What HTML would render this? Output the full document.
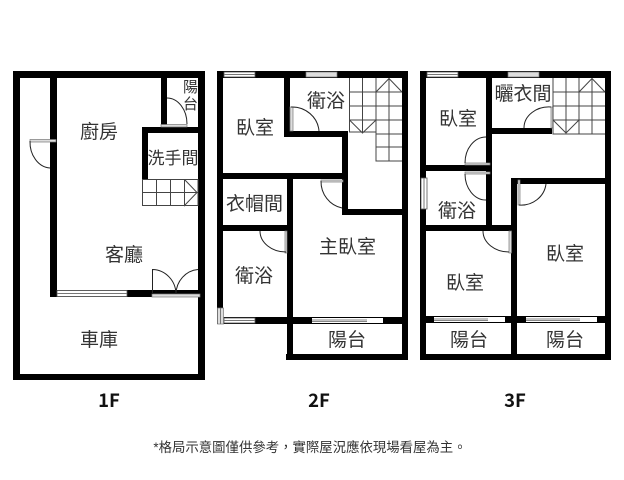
<!DOCTYPE html>
<html><head><meta charset="utf-8"><style>
html,body{margin:0;padding:0;background:#fff;width:624px;height:480px;overflow:hidden}
svg{display:block}
text{font-family:"Liberation Sans","Noto Sans CJK TC",sans-serif;fill:#333;text-anchor:middle}
.l{font-size:19px}
.s{font-size:17px}
.f{font-size:18.500px;font-weight:bold;fill:#111;font-family:"Noto Sans CJK TC","Liberation Sans",sans-serif}
.w{fill:#000;stroke:none}
.d{fill:none;stroke:#222;stroke-width:1}
.g{fill:#ddd;stroke:#777;stroke-width:.7}
.h{fill:#fff;stroke:#555;stroke-width:.8}
.t{fill:none;stroke:#444;stroke-width:1}
</style></head><body>
<svg width="624" height="480" viewBox="0 0 624 480" xmlns="http://www.w3.org/2000/svg">
<rect width="624" height="480" fill="#fff"/>
<!-- 1F -->
<g class="w">
<rect x="13" y="71" width="192" height="7"/><rect x="13" y="71" width="7" height="309"/><rect x="198" y="71" width="7" height="309"/><rect x="13" y="374" width="192" height="6"/>
<rect x="50" y="71" width="7" height="226"/><rect x="50" y="290" width="150" height="7"/>
<rect x="161" y="71" width="6" height="56"/><rect x="142" y="127" width="56" height="6"/><rect x="142" y="127" width="6" height="52"/>
</g>
<rect x="57" y="290.500" width="70" height="6" class="h"/><line x1="57" y1="293.500" x2="127" y2="293.500" stroke="#777"/>
<rect x="152" y="294" width="48" height="3" class="g"/>
<rect x="161" y="124.500" width="26" height="2.500" class="g"/>
<rect x="30" y="139.500" width="26" height="2.500" class="g"/>
<path class="d" d="M30 141A21 26 0 0 0 50 168"/>
<path class="d" d="M167 98A20 26 0 0 1 187 124"/>
<path class="d" d="M152.500 294V269.500A24 25 0 0 1 176 294M176 294A24 25 0 0 1 198 269.500"/>
<path class="t" d="M142.500 179.500H198V205.500H142.500ZM142.500 192.500H198M156.500 179.500V205.500M170.500 179.500V205.500M184.500 179.500V205.500L197 192.500L184.500 179.500"/>
<!-- 2F -->
<g class="w">
<rect x="217" y="71" width="191" height="7"/><rect x="217" y="71" width="6" height="253"/><rect x="402" y="71" width="6" height="289"/>
<rect x="217" y="317" width="191" height="7"/><rect x="286" y="354" width="122" height="6"/><rect x="287" y="173" width="6" height="187"/>
<rect x="217" y="173" width="131" height="6"/><rect x="342" y="131" width="6" height="84"/><rect x="342" y="209" width="66" height="6"/>
<rect x="284" y="71" width="6" height="66"/><rect x="284" y="131" width="64" height="6"/><rect x="217" y="225" width="76" height="6"/>
</g>
<rect x="224" y="72" width="31" height="5" class="h"/><line x1="224" y1="74.500" x2="255" y2="74.500" stroke="#777"/>
<rect x="306" y="72" width="31" height="5" class="g"/>
<rect x="224" y="318" width="31" height="5" class="h"/><line x1="224" y1="320.500" x2="255" y2="320.500" stroke="#777"/>
<rect x="217.500" y="308" width="6" height="16" class="g"/><line x1="220.500" y1="308" x2="220.500" y2="324" stroke="#777"/>
<rect x="312" y="318" width="71" height="5" fill="#fff"/><path d="M312 320H367M312 321.500H367" stroke="#888" stroke-width="1"/>
<rect x="290" y="107" width="3" height="24" class="g"/>
<path class="d" d="M291 107A27 26 0 0 1 319 131"/>
<rect x="321" y="180" width="22" height="2" class="g"/>
<path class="d" d="M321 181A26 27 0 0 0 342 208"/>
<rect x="285" y="231" width="2" height="22" class="g"/>
<path class="d" d="M260 231A26 21 0 0 0 286 252"/>
<path class="t" d="M349.500 78V132H376V78M362.500 78V132M349.500 92H376M349.500 106H376M349.500 120H376M349.500 120L362.500 133L376 120"/>
<path class="t" d="M376 78V161H402M389 78V161M376 92H402M376 106H402M376 120H402M376 134H402M376 147H402M376 92L389 78.500L402 92"/>
<!-- 3F -->
<g class="w">
<rect x="420" y="71" width="191" height="7"/><rect x="420" y="71" width="6" height="289"/><rect x="605" y="71" width="6" height="289"/>
<rect x="420" y="354" width="191" height="6"/><rect x="420" y="316" width="191" height="7"/><rect x="511" y="178" width="6" height="182"/>
<rect x="511" y="178" width="100" height="6"/><rect x="486" y="71" width="6" height="160"/><rect x="420" y="225" width="97" height="6"/>
<rect x="420" y="165" width="72" height="6"/><rect x="492" y="128" width="60" height="6"/>
</g>
<rect x="427" y="72" width="31" height="5" class="h"/><line x1="427" y1="74.500" x2="458" y2="74.500" stroke="#777"/>
<rect x="508" y="72" width="31" height="5" class="g"/>
<rect x="421" y="178" width="6" height="31" class="h"/><line x1="424" y1="178" x2="424" y2="209" stroke="#777"/>
<rect x="434" y="317" width="71" height="5" fill="#fff"/><path d="M434 319H488M434 320.500H488" stroke="#888"/>
<rect x="526" y="317" width="71" height="5" fill="#fff"/><path d="M526 319H580M526 320.500H580" stroke="#888"/>
<rect x="465" y="163" width="25" height="2" class="g"/><rect x="465" y="172" width="25" height="2" class="g"/>
<path class="d" d="M486 137A21 26 0 0 0 465 163M465 174A21 26 0 0 0 486 200"/>
<rect x="518" y="180" width="2" height="25" class="g"/>
<path class="d" d="M519 205A25 24 0 0 0 546 184"/>
<rect x="551" y="107" width="2" height="21" class="g"/>
<path class="d" d="M551 107A25 21 0 0 0 524 128"/>
<rect x="509" y="231" width="2.500" height="22" class="g"/>
<path class="d" d="M483 231A26 21 0 0 0 509 252"/>
<path class="t" d="M553 78V134H579V78M566 78V134M553 92H579M553 106H579M553 120H579M553 120L566 133L579 120"/>
<path class="t" d="M579 78V134H605M592 78V134M579 92H605M579 106H605M579 120H605M579 92L592 78.500L605 92"/>
<!-- labels -->
<text class="l" x="99" y="138">廚房</text>
<text class="s" x="173" y="164">洗手間</text>
<text style="font-size:15px" x="190.500" y="92">陽</text><text style="font-size:15px" x="190.500" y="109">台</text>
<text class="l" x="124" y="261">客廳</text>
<text class="l" x="99" y="346">車庫</text>
<text class="l" x="255" y="134">臥室</text>
<text class="l" x="326" y="107">衛浴</text>
<text class="l" x="254.500" y="210">衣帽間</text>
<text class="l" x="254" y="282">衛浴</text>
<text class="l" x="347.500" y="253">主臥室</text>
<text class="l" x="347" y="346">陽台</text>
<text class="l" x="458" y="125">臥室</text>
<text class="l" x="523" y="100">曬衣間</text>
<text class="l" x="457" y="217">衛浴</text>
<text class="l" x="465" y="289">臥室</text>
<text class="l" x="565" y="260">臥室</text>
<text class="l" x="469" y="346">陽台</text>
<text class="l" x="565" y="346">陽台</text>
<text class="f" x="109" y="407">1F</text>
<text class="f" x="319" y="407">2F</text>
<text class="f" x="515" y="407">3F</text>
<text x="310" y="452" style="font-size:13.400px">*格局示意圖僅供參考，實際屋況應依現場看屋為主。</text>
</svg>
</body></html>
